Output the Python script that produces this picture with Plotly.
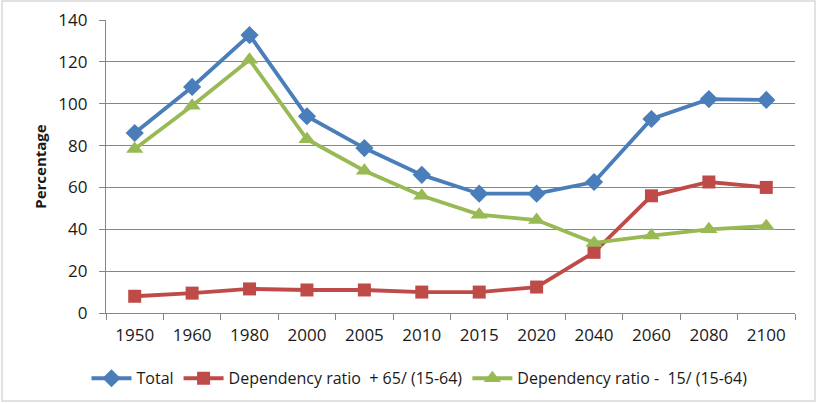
import plotly.graph_objects as go

years = ["1950", "1960", "1980", "2000", "2005", "2010", "2015", "2020", "2040", "2060", "2080", "2100"]
total = [86, 108, 132.8, 94, 78.8, 66, 57, 57, 62.6, 92.7, 102.2, 101.8]
old_age = [8, 9.5, 11.5, 11, 11, 10, 10, 12.4, 29, 56, 62.6, 60]
young = [78.4, 99, 121, 83, 68, 56, 47, 44.4, 33.5, 37, 40, 41.5]
names = ["Total", "Dependency ratio  + 65/ (15-64)", "Dependency ratio -  15/ (15-64)"]
y_ticks = [0, 20, 40, 60, 80, 100, 120, 140]

W, H = 817, 403
ml, mr, mt, mb = 106, 22, 20, 90

fig = go.Figure()
fig.add_trace(go.Scatter(x=years, y=total, name=names[0], mode="lines+markers",
                         line=dict(color="#4A7EBB", width=3.8),
                         marker=dict(symbol="diamond", size=14, color="#4A7EBB")))
fig.add_trace(go.Scatter(x=years, y=old_age, name=names[1], mode="lines+markers",
                         line=dict(color="#BE4B48", width=3.8),
                         marker=dict(symbol="square", size=13, color="#BE4B48")))
fig.add_trace(go.Scatter(x=years, y=young, name=names[2], mode="lines+markers",
                         line=dict(color="#98B954", width=3.8),
                         marker=dict(symbol="triangle-up", size=15, color="#98B954")))

pw = W - ml - mr
ph = H - mt - mb
fig.add_shape(type="rect", xref="paper", yref="paper",
              x0=(2 - ml) / pw, x1=(W - 2 - ml) / pw,
              y0=-(H - 2 - mt - ph) / ph, y1=(ph + mt - 1) / ph,
              line=dict(color="#D9D9D9", width=1.5), fillcolor="rgba(0,0,0,0)")

fig.update_layout(
    width=W, height=H,
    margin=dict(l=ml, r=mr, t=mt, b=mb, autoexpand=False),
    paper_bgcolor="white", plot_bgcolor="white",
    font=dict(family="Open Sans, Liberation Sans, sans-serif", size=17, color="#1a1a1a"),
    showlegend=True,
    legend=dict(orientation="h", x=0.455, xanchor="center", y=-0.165, yanchor="top",
                font=dict(size=16), itemwidth=40, traceorder="normal"),
    xaxis=dict(type="category", showgrid=False, showline=True, linecolor="#868686", linewidth=1.3,
               ticks="outside", tickson="boundaries", ticklen=6, tickcolor="#868686",
               ticklabelstandoff=6,
               range=[-0.5, len(years) - 0.5], fixedrange=True),
    yaxis=dict(range=[0, 140], tickvals=y_ticks, showgrid=True, gridcolor="#868686", gridwidth=1.3,
               showline=True, linecolor="#868686", linewidth=1.3, ticks="outside", ticklen=6,
               tickcolor="#868686", zeroline=False, ticklabelstandoff=8,
               title=dict(text="<b>Percentage</b>", font=dict(size=15), standoff=8)),
)

fig.write_html("out.html", config={"displayModeBar": False},
               post_script="document.body.style.margin='0';document.body.style.overflow='hidden';")
